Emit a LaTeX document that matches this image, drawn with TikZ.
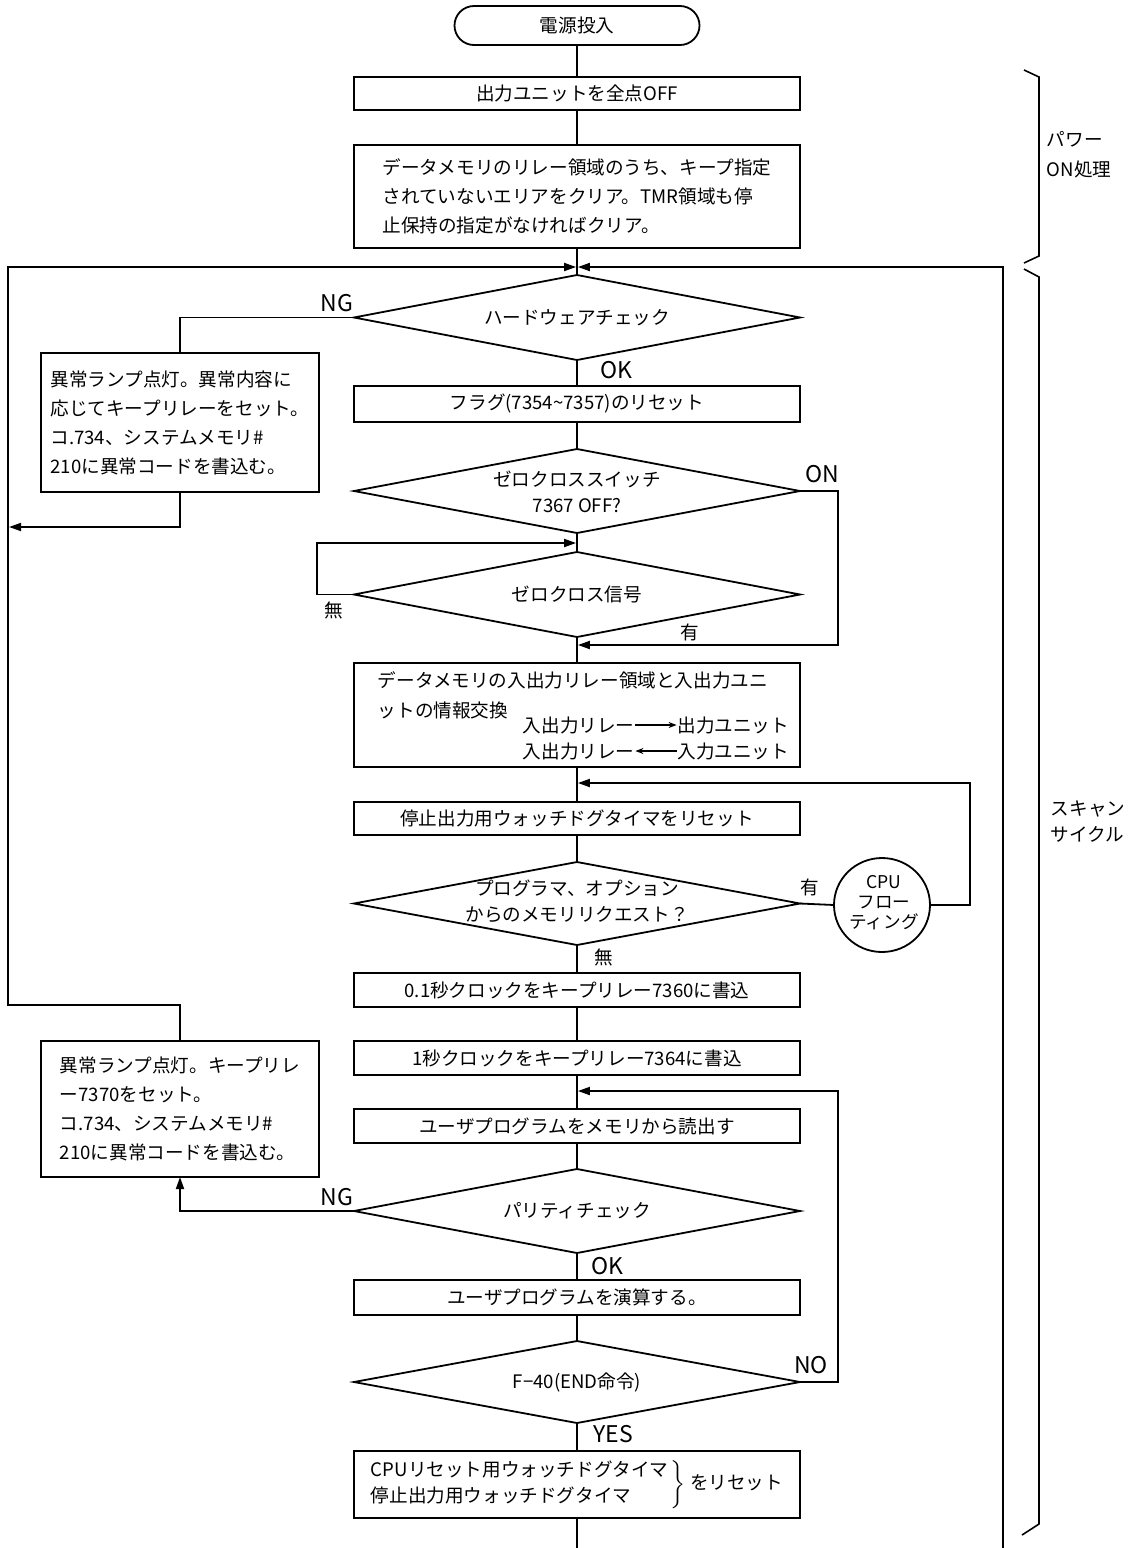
\documentclass[tikz,border=0pt]{standalone}
\usepackage{fontspec}
\setmainfont{Noto Sans CJK JP}
\usetikzlibrary{arrows.meta,shapes.geometric}
\newcommand\mytxt{\fontsize{9.3pt}{14.5pt}\selectfont}
\newcommand\mydia{\fontsize{9.3pt}{12.8pt}\selectfont}
\newcommand\mylbl{\fontsize{11.5pt}{13pt}\selectfont}
\newcommand\mycpu{\fontsize{8.8pt}{10pt}\selectfont}
\begin{document}
\begin{tikzpicture}[x=0.5pt,y=-0.5pt,line width=0.9pt,
  term/.style={draw,rectangle,rounded corners=9.75pt,minimum width=122.5pt,minimum height=19.5pt,inner sep=0pt,outer sep=0pt,font=\mytxt},
  box/.style={draw,rectangle,minimum width=223pt,inner sep=0pt,outer sep=0pt,font=\mytxt},
  lampbox/.style={draw,rectangle,minimum width=139pt,inner sep=0pt,outer sep=0pt,font=\mytxt,align=left},
  dia/.style={draw,diamond,minimum width=223pt,inner sep=0pt,outer sep=0pt},
  dtext/.style={font=\mydia,align=center,inner sep=0pt},
  lbl/.style={font=\mylbl,inner sep=0pt},
  klbl/.style={font=\mytxt,inner sep=0pt},
  plain/.style={font=\mytxt,inner sep=0pt},
  arr/.style={-{Triangle[length=6pt,width=4pt]}},
  smallarr/.style={line width=0.6pt,-{Stealth[length=4pt,width=3pt]}},
  bracket/.style={line width=0.8pt}]
\useasboundingbox (0,0) rectangle (1135,1548);

% ---------- power-on part ----------
\node[term] (start) at (577,25.5) {電源投入};
\node[box,minimum height=16.5pt] (b1) at (577,93.5) {出力ユニットを全点OFF};
\node[box,minimum height=51.5pt,align=left] (b2) at (577,196.5)
  {データメモリのリレー領域のうち、キープ指定\\されていないエリアをクリア。TMR領域も停\\止保持の指定がなければクリア。};

% ---------- scan cycle ----------
\node[dia,minimum height=42.5pt] (d1) at (577,317.5) {};
\node[dtext] (d1t) at (d1) {ハードウェアチェック};
\node[lampbox,minimum height=69.5pt] (lamp1) at (180,422.5)
  {異常ランプ点灯。異常内容に\\応じてキープリレーをセット。\\コ.734、システムメモリ\#\\210に異常コードを書込む。};
\node[box,minimum height=18pt] (b3) at (577,404) {フラグ(7354\textasciitilde 7357)のリセット};
\node[dia,minimum height=42pt] (d2) at (577,491) {};
\node[dtext] (d2t) at (577,492) {ゼロクロススイッチ\\7367 OFF?};
\node[dia,minimum height=42.5pt] (d3) at (577,594.5) {};
\node[dtext] (d3t) at (d3) {ゼロクロス信号};

\node[box,minimum height=52pt] (b4) at (577,715) {};
\node[plain,anchor=west] (b4l1) at (377,680) {データメモリの入出力リレー領域と入出力ユニ};
\node[plain,anchor=west] (b4l2) at (377,710) {ットの情報交換};
\node[plain,anchor=west] (rl1) at (522,725) {入出力リレー};
\node[plain,anchor=east] (ou) at (790,725) {出力ユニット};
\node[plain,anchor=west] (rl2) at (522,751) {入出力リレー};
\node[plain,anchor=east] (iu) at (790,751) {入力ユニット};
\draw[smallarr] (rl1.east) -- (ou.west);
\draw[smallarr] (iu.west) -- (rl2.east);

\node[box,minimum height=16.5pt] (b5) at (577,818.5) {停止出力用ウォッチドグタイマをリセット};
\node[dia,minimum height=41.5pt] (d4) at (577,903.5) {};
\node[dtext] (d4t) at (577,901.5) {プログラマ、オプション\\からのメモリリクエスト？};
\node[draw,ellipse,minimum width=48pt,minimum height=47pt,inner sep=0pt,outer sep=0pt] (cpu) at (882,905) {};
\node[font=\mycpu,align=center,inner sep=0pt] (cput) at (884,903) {CPU\\フロー\\ティング};

\node[box,minimum height=17pt] (b6) at (577,990) {0.1秒クロックをキープリレー7360に書込};
\node[lampbox,minimum height=68pt] (lamp2) at (180,1109)
  {異常ランプ点灯。キープリレ\\ー7370をセット。\\コ.734、システムメモリ\#\\210に異常コードを書込む。};
\node[box,minimum height=17pt] (b7) at (577,1058) {1秒クロックをキープリレー7364に書込};
\node[box,minimum height=17pt] (b8) at (577,1126) {ユーザプログラムをメモリから読出す};
\node[dia,minimum height=42pt] (d5) at (577,1211) {};
\node[dtext] (d5t) at (d5) {パリティチェック};
\node[box,minimum height=17.5pt] (b9) at (577,1297.5) {ユーザプログラムを演算する。};
\node[dia,minimum height=41pt] (d6) at (577,1382) {};
\node[dtext] (d6t) at (d6) {F−40(END命令)};
\node[box,minimum height=33.5pt,font=\fontsize{9.3pt}{13pt}\selectfont] (b10) at (577,1484.5)
  {\begin{tabular}{@{}l@{}}CPUリセット用ウォッチドグタイマ\\停止出力用ウォッチドグタイマ\end{tabular}%
   $\left.\vphantom{\begin{tabular}{l}A\\A\end{tabular}}\right\}$\ をリセット};

% ---------- junction points ----------
\coordinate (jtop) at (577,267);
\coordinate (ltop) at (8,267);
\coordinate (rtop) at (1003,267);
\coordinate (rbot) at (1003,1548);
\coordinate (mbot) at (577,1548);
\coordinate (j2) at (577,543);
\coordinate (j3) at (577,645);
\coordinate (j4) at (577,783);
\coordinate (j5) at (577,1091);

% ---------- main flow ----------
\draw (start) -- (b1);
\draw (b1) -- (b2);
\draw (b2) -- (d1);
\draw (d1) -- (b3);
\draw (b3) -- (d2);
\draw (d2) -- (d3);
\draw (d3) -- (b4);
\draw (b4) -- (b5);
\draw (b5) -- (d4);
\draw (d4) -- (b6);
\draw (b6) -- (b7);
\draw (b7) -- (b8);
\draw (b8) -- (d5);
\draw (d5) -- (b9);
\draw (b9) -- (d6);
\draw (d6) -- (b10);
\draw (b10) -- (mbot);

% ---------- loops and branches ----------
\draw[arr] (lamp2.north) |- (8,1005) -- (ltop) -- ([xshift=-0.45pt]jtop);
\draw[arr] (rbot) -- (rtop) -- ([xshift=0.45pt]jtop);
\draw (d1.west) -| (lamp1.north);
\draw[arr] (lamp1.south) |- (9,527);
\draw[arr] (d2.east) -| (838,645) -- ([xshift=0.45pt]j3);
\draw[arr] (d3.west) -| (317,543) -- ([xshift=-0.45pt]j2);
\draw (d4.east) -- (cpu.west);
\draw[arr] (cpu.east) -| (970,783) -- ([xshift=0.45pt]j4);
\draw[arr] (d5.west) -| (lamp2.south);
\draw[arr] (d6.east) -| (838,1091) -- ([xshift=0.45pt]j5);

% ---------- branch labels ----------
\node[lbl] (ng1) at (337,303) {NG};
\node[lbl] (ok1) at (616,370) {OK};
\node[lbl] (on1) at (822,474) {ON};
\node[klbl] (mu1) at (334,610) {無};
\node[klbl] (yu1) at (690,632) {有};
\node[klbl] (yu2) at (810,887) {有};
\node[klbl] (mu2) at (604,957) {無};
\node[lbl] (ng2) at (337,1197) {NG};
\node[lbl] (ok2) at (607,1266) {OK};
\node[lbl] (no1) at (811,1365) {NO};
\node[lbl] (yes1) at (613,1434) {YES};

% ---------- side brackets ----------
\draw[bracket] (1024,70) -- (1039,77) -- (1039,256) -- (1024,263);
\draw[bracket] (1024,269) -- (1039,277) -- (1039,1524) -- (1022,1535);
\node[plain,anchor=west,align=left,font=\fontsize{9.3pt}{15pt}\selectfont] (pw) at (1046,155) {パワー\\ON処理};
\node[plain,anchor=west,align=left,font=\fontsize{9.3pt}{13pt}\selectfont] (sc) at (1050,822) {スキャン\\サイクル};
\end{tikzpicture}
\end{document}
